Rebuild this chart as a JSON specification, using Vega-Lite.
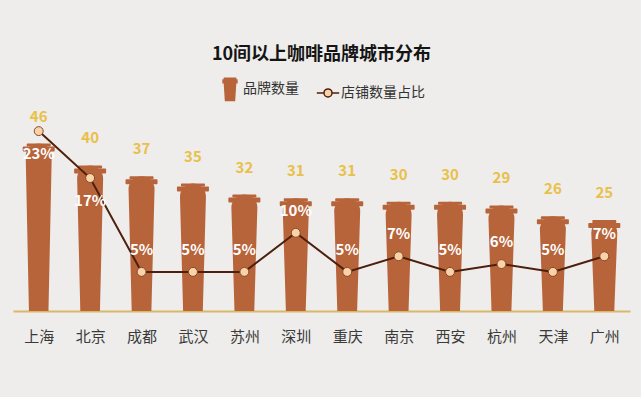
{
  "$schema": "https://vega.github.io/schema/vega-lite/v6.json",
  "width": 617,
  "height": 210,
  "autosize": {"type": "none"},
  "padding": {"left": 13, "top": 101, "right": 11, "bottom": 86},
  "background": "#EEEDEB",
  "title": {"text": "10间以上咖啡品牌城市分布", "anchor": "middle", "fontSize": 18, "fontWeight": "bold", "color": "#151515", "font": "Noto Sans CJK SC", "offset": 13},
  "data": {"values": [
    {"city": "上海", "count": 46, "pct": 0.23},
    {"city": "北京", "count": 40, "pct": 0.17},
    {"city": "成都", "count": 37, "pct": 0.05},
    {"city": "武汉", "count": 35, "pct": 0.05},
    {"city": "苏州", "count": 32, "pct": 0.05},
    {"city": "深圳", "count": 31, "pct": 0.10},
    {"city": "重庆", "count": 31, "pct": 0.05},
    {"city": "南京", "count": 30, "pct": 0.07},
    {"city": "西安", "count": 30, "pct": 0.05},
    {"city": "杭州", "count": 29, "pct": 0.06},
    {"city": "天津", "count": 26, "pct": 0.05},
    {"city": "广州", "count": 25, "pct": 0.07}
  ]},
  "resolve": {"scale": {"y": "independent"}},
  "layer": [
    {
      "transform": [{"calculate": "0", "as": "base"}, {"fold": ["base", "count"], "as": ["part", "v"]}],
      "mark": {"type": "trail", "clip": true},
      "encoding": {
        "x": {"field": "city", "type": "nominal", "sort": null, "scale": {"type": "point", "padding": 0.5},
              "axis": {"title": null, "labelAngle": 0, "labelFontSize": 15, "labelColor": "#3A3A3A", "labelFont": "Noto Sans CJK SC", "ticks": false, "domainColor": "#D9B969", "domainWidth": 2, "labelPadding": 18, "grid": false}},
        "y": {"field": "v", "type": "quantitative", "axis": null, "scale": {"domain": [0, 57.69], "range": [223, 13], "nice": false, "zero": true}},
        "size": {"field": "part", "type": "ordinal", "scale": {"domain": ["base", "count"], "range": [19, 26]}, "legend": null},
        "detail": {"field": "city"},
        "color": {"datum": "品牌数量", "scale": {"domain": ["品牌数量", "店铺数量占比"], "range": ["#B8643A", "#4E1F0C"]},
          "legend": {"title": null, "orient": "none", "legendX": 205, "legendY": -24, "direction": "horizontal", "labelFontSize": 14, "labelColor": "#333333", "labelFont": "Noto Sans CJK SC", "columnPadding": 14, "labelOffset": 1, "symbolSize": 500,
            "encode": {"symbols": {"update": {
              "shape": {"signal": "datum.value === '品牌数量' ? 'M-0.5,-1 H0.5 V-0.85 H0.62 V-0.6 H0.5 L0.4,1 H-0.4 L-0.5,-0.6 H-0.62 V-0.85 H-0.5 Z' : 'M-1,0 H-0.36 M0.36,0 H1 M0.36,0 A0.36,0.36 0 1 1 -0.36,0 A0.36,0.36 0 1 1 0.36,0'"},
              "fill": {"signal": "datum.value === '品牌数量' ? '#B8643A' : '#F8D2A8'"},
              "stroke": {"signal": "datum.value === '品牌数量' ? 'transparent' : '#4E1F0C'"},
              "strokeWidth": {"value": 1.5},
              "size": {"value": 500},
              "opacity": {"value": 1}
            }}}}}
      }
    },
    {
      "mark": {"type": "tick", "color": "#B8643A", "thickness": 3, "size": 24, "yOffset": 1.5, "cornerRadius": 1, "opacity": 1},
      "encoding": {
        "x": {"field": "city", "type": "nominal", "sort": null},
        "y": {"field": "count", "type": "quantitative", "axis": null, "scale": {"domain": [0, 57.69], "nice": false}}
      }
    },
    {
      "mark": {"type": "tick", "color": "#B8643A", "thickness": 5, "size": 32, "yOffset": 5.5, "cornerRadius": 1, "opacity": 1},
      "encoding": {
        "x": {"field": "city", "type": "nominal", "sort": null},
        "y": {"field": "count", "type": "quantitative", "axis": null, "scale": {"domain": [0, 57.69], "nice": false}}
      }
    },
    {
      "mark": {"type": "text", "dy": -27, "fontSize": 15, "fontWeight": "bold", "color": "#E8C04A", "font": "Noto Sans CJK SC", "baseline": "middle"},
      "encoding": {
        "x": {"field": "city", "type": "nominal", "sort": null},
        "y": {"field": "count", "type": "quantitative", "axis": null, "scale": {"domain": [0, 57.69], "nice": false}},
        "text": {"field": "count", "type": "quantitative"}
      }
    },
    {
      "mark": {"type": "line", "strokeWidth": 2},
      "encoding": {
        "x": {"field": "city", "type": "nominal", "sort": null},
        "y": {"field": "pct", "type": "quantitative", "axis": null, "scale": {"domain": [0, 0.2685], "nice": false}},
        "color": {"datum": "店铺数量占比"}
      }
    },
    {
      "mark": {"type": "point", "filled": true, "size": 80, "fill": "#F8D2A8", "stroke": "#8A4A22", "strokeWidth": 1, "opacity": 1},
      "encoding": {
        "x": {"field": "city", "type": "nominal", "sort": null},
        "y": {"field": "pct", "type": "quantitative", "axis": null, "scale": {"domain": [0, 0.2685], "nice": false}}
      }
    },
    {
      "transform": [{"filter": "datum.pct > 0.15"}],
      "mark": {"type": "text", "dy": 23, "fontSize": 15, "fontWeight": "bold", "color": "#FFFFFF", "font": "Noto Sans CJK SC", "baseline": "middle"},
      "encoding": {
        "x": {"field": "city", "type": "nominal", "sort": null},
        "y": {"field": "pct", "type": "quantitative", "axis": null, "scale": {"domain": [0, 0.2685], "nice": false}},
        "text": {"field": "pct", "type": "quantitative", "format": ".0%"}
      }
    },
    {
      "transform": [{"filter": "datum.pct <= 0.15"}],
      "mark": {"type": "text", "dy": -22, "fontSize": 15, "fontWeight": "bold", "color": "#FFFFFF", "font": "Noto Sans CJK SC", "baseline": "middle"},
      "encoding": {
        "x": {"field": "city", "type": "nominal", "sort": null},
        "y": {"field": "pct", "type": "quantitative", "axis": null, "scale": {"domain": [0, 0.2685], "nice": false}},
        "text": {"field": "pct", "type": "quantitative", "format": ".0%"}
      }
    }
  ],
  "config": {"view": {"stroke": null}, "font": "Noto Sans CJK SC"}
}
